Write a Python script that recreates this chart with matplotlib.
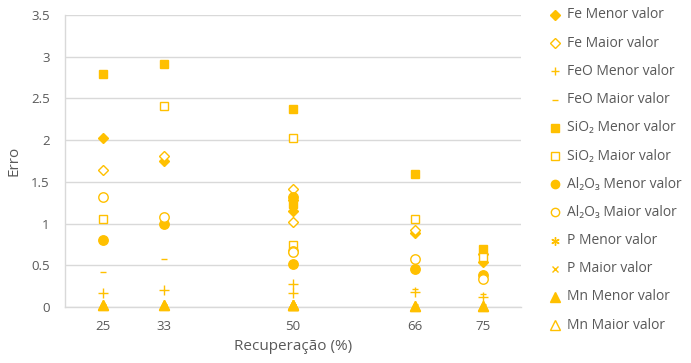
import matplotlib
matplotlib.use("Agg")
import matplotlib.pyplot as plt
from matplotlib.lines import Line2D

plt.rcParams['font.family'] = ['Open Sans', 'DejaVu Sans']

# Recuperação (%) of each test
recuperacao = [25, 33, 50, 50, 66, 75]

# Erro per element, lower and upper values
fe_menor = [2.02, 1.75, 1.28, 1.15, 0.89, 0.54]
fe_maior = [1.64, 1.81, 1.42, 1.02, 0.92, 0.63]
feo_menor = [0.17, 0.20, 0.27, 0.17, 0.18, 0.12]
feo_maior = [0.42, 0.57, 0.48, 0.51, 0.21, 0.15]
sio2_menor = [2.79, 2.91, 2.37, 1.24, 1.60, 0.69]
sio2_maior = [1.06, 2.41, 2.03, 0.74, 1.06, 0.60]
al2o3_menor = [0.80, 1.00, 0.51, 1.32, 0.46, 0.38]
al2o3_maior = [1.32, 1.08, 0.67, 0.66, 0.57, 0.34]
p_menor = [0.01, 0.01, 0.01, 0.01, 0.01, 0.01]
p_maior = [0.01, 0.01, 0.01, 0.01, 0.01, 0.01]
mn_menor = [0.02, 0.02, 0.02, 0.02, 0.01, 0.01]
mn_maior = [0.02, 0.02, 0.02, 0.02, 0.01, 0.01]

x_ticks = [25, 33, 50, 66, 75]
y_ticks = [0, 0.5, 1, 1.5, 2, 2.5, 3, 3.5]
y_tick_labels = ['0', '0.5', '1', '1.5', '2', '2.5', '3', '3.5']

GOLD = '#FFC000'
GRID = '#D9D9D9'
TXT = '#595959'

# (label, values, marker, plot size, legend size, filled, zorder)
series = [
    ('Fe Menor valor', fe_menor, 'D', 5.2, 5.0, True, 3),
    ('Fe Maior valor', fe_maior, 'D', 5.2, 5.0, False, 3),
    ('FeO Menor valor', feo_menor, '+', 6.5, 6.0, True, 3),
    ('FeO Maior valor', feo_maior, '_', 5.0, 4.5, True, 3),
    ('SiO₂ Menor valor', sio2_menor, 's', 6.3, 5.8, True, 3),
    ('SiO₂ Maior valor', sio2_maior, 's', 6.3, 5.8, False, 3),
    ('Al₂O₃ Menor valor', al2o3_menor, 'o', 6.8, 6.0, True, 3),
    ('Al₂O₃ Maior valor', al2o3_maior, 'o', 6.8, 6.0, False, 3),
    ('P Menor valor', p_menor, (6, 2, 0), 3.6, 6.0, True, 2),
    ('P Maior valor', p_maior, 'x', 3.6, 5.0, True, 2),
    ('Mn Menor valor', mn_menor, '^', 7.5, 6.5, True, 5),
    ('Mn Maior valor', mn_maior, '^', 7.5, 6.5, False, 4),
]

fig = plt.figure(figsize=(6.91, 3.63), dpi=100)
ax = fig.add_axes([65 / 691, 1 - 307 / 363, 456 / 691, 292 / 363])

for label, vals, mk, ms, lms, filled, z in series:
    face = GOLD if filled else 'white'
    ax.plot(recuperacao, vals, linestyle='none', marker=mk, markersize=ms,
            markerfacecolor=face, markeredgecolor=GOLD, markeredgewidth=1.0,
            clip_on=False, zorder=z, label=label)

ax.set_xlim(20, 80)
ax.set_ylim(0, 3.5)
ax.set_xticks(x_ticks)
ax.set_xticklabels([str(t) for t in x_ticks])
ax.set_yticks(y_ticks)
ax.set_yticklabels(y_tick_labels)
ax.tick_params(axis='both', length=0, labelsize=9.5, labelcolor=TXT)
ax.tick_params(axis='y', pad=11)
ax.tick_params(axis='x', pad=9)

ax.grid(axis='y', color=GRID, linewidth=1.0, zorder=0)
ax.set_axisbelow(True)
for side in ('top', 'right'):
    ax.spines[side].set_visible(False)
for side in ('left', 'bottom'):
    ax.spines[side].set_color(GRID)
    ax.spines[side].set_linewidth(1.0)

ax.set_xlabel('Recuperação (%)', fontsize=11, color=TXT, labelpad=5)
ax.set_ylabel('Erro', fontsize=11, color=TXT, labelpad=7)

# Legend in a column on the right
x_mark = 555 / 691
x_text = 567 / 691
for i, (label, vals, mk, ms, lms, filled, z) in enumerate(series):
    yp = 1 - (15 + 28.2 * i) / 363
    face = GOLD if filled else 'white'
    fig.add_artist(Line2D([x_mark], [yp], transform=fig.transFigure, linestyle='none',
                          marker=mk, markersize=lms, markerfacecolor=face,
                          markeredgecolor=GOLD, markeredgewidth=1.0))
    fig.text(x_text, yp, label, fontsize=10, color=TXT, va='center', ha='left')

fig.savefig('out.png', dpi=100)
